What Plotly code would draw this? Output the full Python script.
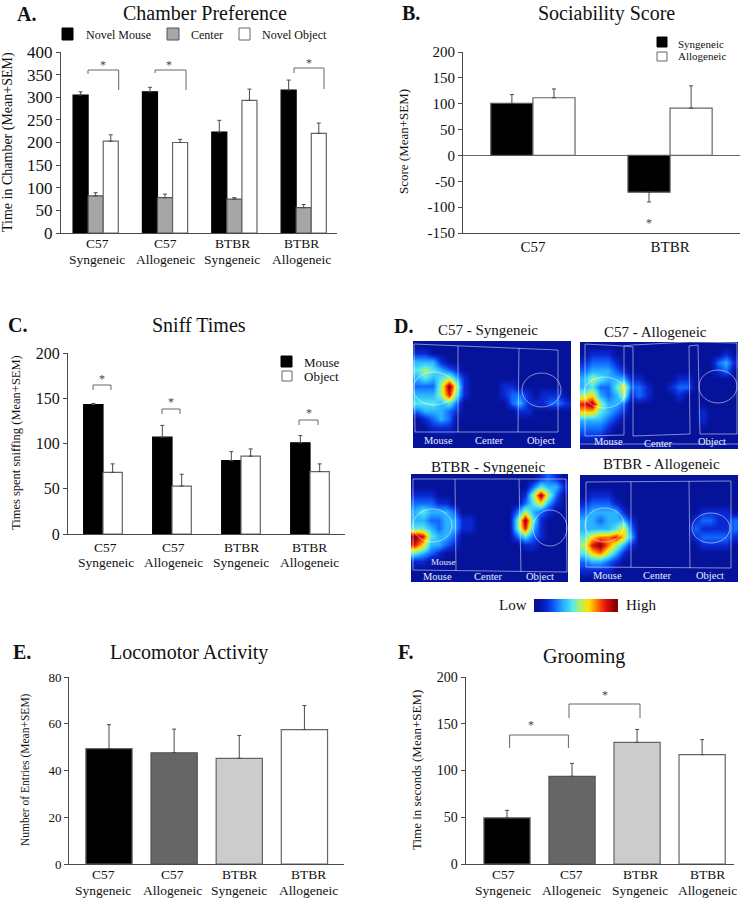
import plotly.graph_objects as go

W, H = 743, 900
SERIF = "Liberation Serif"
AXIS = "#4a4a4a"
EDGE = "#666666"

cats = ["C57 Syngeneic", "C57 Allogeneic", "BTBR Syngeneic", "BTBR Allogeneic"]
cat_top = ["C57", "C57", "BTBR", "BTBR"]
cat_bottom = ["Syngeneic", "Allogeneic", "Syngeneic", "Allogeneic"]

# A. chamber preference
a_mouse = [305, 312, 223, 316]
a_mouse_err = [7, 10, 26, 22]
a_center = [82, 78, 75, 56]
a_center_err = [7, 8, 3, 7]
a_object = [203, 200, 293, 220]
a_object_err = [14, 7, 25, 23]

# B. sociability
b_cats = ["C57", "BTBR"]
b_syn = [100.6, -71]
b_syn_up = [17, 0]
b_syn_down = [0, 19]
b_allo = [111.5, 91.5]
b_allo_err = [17, 43]
b_ticks = [-150, -100, -50, 0, 50, 100, 150, 200]
b_tick_text = ["-150", "-100", "-50", "0", "50", "100", "150", "200"]

# C. sniff times
c_mouse = [143, 107, 81, 100.7]
c_mouse_err = [1.3, 13, 10, 8]
c_object = [68, 53, 86, 69]
c_object_err = [9.5, 13, 8, 8.5]

# E. locomotor
e_vals = [49.4, 47.6, 45.2, 57.5]
e_err = [10.2, 10.1, 9.8, 10.3]

# F. grooming
f_vals = [49.4, 93.8, 130, 117]
f_err = [8, 13.8, 13.9, 16]

grey_fills = ["#000000", "#666666", "#cccccc", "#ffffff"]

d_syn_c57 = [
    [0, 0, 0, 0, 0, 0, 0, 0, 0, 0, 0, 0, 0, 0, 0, 0, 0, 0, 0, 0],
    [1, 1, 0, 0, 0, 0, 0, 0, 0, 0, 0, 0, 0, 0, 0, 0, 0, 0, 0, 0],
    [3, 3, 3, 1, 0, 0, 0, 0, 0, 0, 0, 0, 0, 0, 0, 0, 0, 0, 0, 0],
    [4, 5, 4, 3, 2, 1, 0, 0, 0, 0, 0, 0, 0, 0, 0, 0, 0, 0, 0, 0],
    [3, 4, 3, 4, 5, 3, 1, 0, 0, 0, 0, 0, 0, 0, 0, 0, 0, 0, 0, 0],
    [2, 2, 2, 5, 9, 5, 1, 0, 0, 0, 0, 1, 1, 0, 0, 0, 0, 0, 0, 0],
    [3, 3, 3, 5, 8, 4, 1, 0, 0, 0, 0, 1, 2, 2, 1, 0, 1, 1, 1, 0],
    [4, 4, 4, 3, 4, 2, 0, 0, 0, 0, 0, 0, 2, 3, 1, 1, 1, 2, 2, 1],
    [2, 3, 3, 3, 2, 1, 0, 0, 0, 0, 0, 0, 0, 1, 1, 0, 0, 0, 0, 0],
    [0, 1, 2, 3, 2, 0, 0, 0, 0, 0, 0, 0, 0, 0, 0, 0, 0, 0, 0, 0],
    [0, 0, 1, 1, 1, 0, 0, 0, 0, 0, 0, 0, 0, 0, 0, 0, 0, 0, 0, 0],
    [0, 0, 0, 0, 0, 0, 0, 0, 0, 0, 0, 0, 0, 0, 0, 0, 0, 0, 0, 0],
    [0, 0, 0, 0, 0, 0, 0, 0, 0, 0, 0, 0, 0, 0, 0, 0, 0, 0, 0, 0],
]
d_allo_c57 = [
    [0, 0, 0, 0, 0, 0, 0, 0, 0, 0, 0, 0, 0, 0, 0, 0, 0, 0, 0, 0],
    [0, 1, 1, 1, 0, 0, 0, 0, 0, 0, 0, 0, 0, 0, 0, 0, 0, 0, 1, 0],
    [1, 2, 2, 2, 1, 0, 0, 0, 0, 0, 0, 0, 0, 0, 0, 0, 0, 2, 3, 1],
    [2, 3, 3, 3, 2, 1, 0, 0, 0, 0, 0, 0, 0, 0, 0, 0, 0, 1, 2, 0],
    [3, 5, 4, 3, 3, 3, 1, 1, 0, 0, 0, 0, 1, 1, 0, 0, 0, 0, 0, 0],
    [3, 4, 2, 2, 4, 6, 2, 2, 1, 0, 0, 1, 2, 2, 0, 0, 0, 0, 0, 0],
    [5, 6, 3, 2, 3, 5, 1, 2, 1, 0, 0, 0, 1, 0, 0, 0, 0, 0, 0, 0],
    [8, 9, 5, 3, 3, 2, 0, 0, 0, 0, 0, 0, 0, 0, 0, 0, 0, 0, 0, 0],
    [6, 6, 4, 3, 2, 1, 0, 0, 0, 0, 0, 0, 0, 0, 0, 1, 0, 0, 0, 0],
    [3, 3, 3, 2, 1, 0, 0, 0, 0, 0, 0, 0, 0, 0, 0, 1, 0, 0, 0, 0],
    [2, 2, 2, 1, 0, 0, 0, 0, 0, 0, 0, 0, 0, 0, 0, 0, 0, 0, 0, 0],
    [1, 1, 1, 0, 0, 0, 0, 0, 0, 0, 0, 0, 0, 0, 0, 0, 0, 0, 0, 0],
    [0, 0, 0, 0, 0, 0, 0, 0, 0, 0, 0, 0, 0, 0, 0, 0, 0, 0, 0, 0],
]
d_syn_btbr = [
    [0, 0, 0, 0, 0, 0, 0, 0, 0, 0, 0, 0, 0, 0, 0, 0, 1, 2, 1, 0],
    [0, 0, 0, 0, 0, 0, 0, 0, 0, 0, 0, 0, 0, 0, 0, 2, 4, 3, 3, 1],
    [1, 1, 1, 0, 0, 0, 0, 0, 0, 0, 0, 0, 0, 0, 1, 5, 9, 5, 2, 0],
    [2, 2, 2, 1, 1, 0, 0, 0, 0, 0, 0, 0, 0, 0, 2, 4, 6, 3, 1, 0],
    [3, 4, 3, 3, 3, 2, 0, 0, 0, 0, 0, 0, 0, 2, 5, 3, 2, 1, 0, 0],
    [3, 3, 2, 2, 3, 3, 1, 1, 0, 0, 0, 0, 0, 4, 9, 4, 1, 0, 0, 0],
    [4, 4, 3, 2, 3, 3, 1, 1, 0, 0, 0, 0, 0, 4, 8, 3, 1, 0, 0, 0],
    [9, 8, 4, 3, 3, 2, 0, 0, 0, 0, 0, 0, 0, 2, 4, 2, 1, 0, 0, 0],
    [8, 6, 3, 3, 2, 1, 0, 0, 0, 0, 0, 0, 0, 0, 1, 1, 0, 0, 0, 0],
    [4, 3, 2, 1, 0, 0, 0, 0, 0, 0, 0, 0, 0, 0, 0, 0, 0, 0, 0, 0],
    [1, 1, 0, 0, 0, 0, 0, 0, 0, 0, 0, 0, 0, 0, 0, 0, 0, 0, 0, 0],
    [0, 0, 0, 0, 0, 0, 0, 0, 0, 0, 0, 0, 0, 0, 0, 0, 0, 0, 0, 0],
    [0, 0, 0, 0, 0, 0, 0, 0, 0, 0, 0, 0, 0, 0, 0, 0, 0, 0, 0, 0],
]
d_allo_btbr = [
    [0, 0, 0, 0, 0, 0, 0, 0, 0, 0, 0, 0, 0, 0, 0, 0, 0, 0, 0, 0],
    [0, 0, 0, 0, 0, 0, 0, 0, 0, 0, 0, 0, 0, 0, 0, 0, 0, 0, 0, 0],
    [0, 1, 1, 1, 0, 0, 0, 0, 0, 0, 0, 0, 0, 0, 0, 0, 0, 0, 0, 0],
    [1, 2, 2, 2, 1, 0, 0, 0, 0, 0, 0, 0, 0, 0, 0, 0, 0, 0, 0, 0],
    [2, 3, 3, 3, 3, 1, 0, 0, 0, 0, 0, 0, 0, 0, 0, 1, 1, 1, 1, 0],
    [3, 3, 2, 3, 3, 3, 1, 0, 0, 0, 0, 0, 0, 0, 1, 2, 2, 1, 1, 2],
    [3, 3, 3, 3, 4, 6, 2, 0, 0, 0, 0, 0, 0, 0, 2, 1, 1, 1, 1, 2],
    [4, 6, 7, 7, 8, 6, 3, 0, 0, 0, 0, 0, 0, 0, 1, 2, 2, 2, 2, 1],
    [5, 8, 9, 7, 5, 3, 1, 0, 0, 0, 0, 0, 0, 0, 0, 1, 1, 1, 1, 0],
    [4, 6, 7, 5, 3, 1, 0, 0, 0, 0, 0, 0, 0, 0, 0, 0, 0, 0, 0, 0],
    [2, 3, 3, 2, 1, 0, 0, 0, 0, 0, 0, 0, 0, 0, 0, 0, 0, 0, 0, 0],
    [1, 1, 1, 1, 0, 0, 0, 0, 0, 0, 0, 0, 0, 0, 0, 0, 0, 0, 0, 0],
    [0, 0, 0, 0, 0, 0, 0, 0, 0, 0, 0, 0, 0, 0, 0, 0, 0, 0, 0, 0],
]
strip_levels = [0, 1, 2, 3, 4, 5, 6, 7, 8, 9]

heat_scale = [
    [0.0, "#05129a"], [1 / 9, "#0a28d2"], [2 / 9, "#1068ff"], [3 / 9, "#2ab4ff"],
    [4 / 9, "#55e8ee"], [5 / 9, "#b4f064"], [6 / 9, "#ffe000"], [7 / 9, "#ff7000"],
    [8 / 9, "#e01010"], [1.0, "#8c0000"],
]

shapes = []
notes = []


def px(x):
    return x / W


def py(y):
    return 1 - y / H


def text(x, y, s, size, color="#111111", anchor="center", bold=False):
    notes.append(dict(
        x=px(x), y=py(y), xref="paper", yref="paper", text=f"<b>{s}</b>" if bold else s,
        showarrow=False, xanchor=anchor, yanchor="middle",
        font=dict(family=SERIF, size=size, color=color),
    ))


def vtext(x, y, s, size):
    notes.append(dict(
        x=px(x), y=py(y), xref="paper", yref="paper", text=s, textangle=-90,
        showarrow=False, xanchor="center", yanchor="middle",
        font=dict(family=SERIF, size=size, color="#111111"),
    ))


def cat_labels(centers, y_top, y_bottom, size=13.5):
    for x, top, bottom in zip(centers, cat_top, cat_bottom):
        text(x, y_top, top, size)
        text(x, y_bottom, bottom, size)


def line(points, color="#666666", width=1):
    for (x0, y0), (x1, y1) in zip(points, points[1:]):
        shapes.append(dict(type="line", xref="paper", yref="paper",
                           x0=px(x0), y0=py(y0), x1=px(x1), y1=py(y1),
                           line=dict(color=color, width=width)))


def box(x0, y0, x1, y1, fill, edge):
    shapes.append(dict(type="rect", xref="paper", yref="paper",
                       x0=px(x0), y0=py(y0), x1=px(x1), y1=py(y1),
                       fillcolor=fill, line=dict(color=edge, width=1)))


def ellipse(x0, y0, x1, y1):
    shapes.append(dict(type="circle", xref="paper", yref="paper",
                       x0=px(x0), y0=py(y0), x1=px(x1), y1=py(y1),
                       line=dict(color="rgba(255,255,255,0.5)", width=1)))


def bracket(x0, x1, top, left_end, right_end, star_y, star_x=None):
    line([(x0, left_end), (x0, top), (x1, top), (x1, right_end)])
    text(star_x if star_x else (x0 + x1) / 2, star_y + 2, "*", 12, "#444444")


fig = go.Figure()
axes = {}


def add_axes(n, x_dom, y_dom, x_range, y_range, dtick, tick_size):
    axes[f"xaxis{n}"] = dict(
        domain=[px(x_dom[0]), px(x_dom[1])], anchor=f"y{n}", range=x_range,
        type="category", showticklabels=False,
        ticks="", showgrid=False, zeroline=False, showline=True,
        linecolor=AXIS, linewidth=1,
    )
    axes[f"yaxis{n}"] = dict(
        domain=[py(y_dom[1]), py(y_dom[0])], anchor=f"x{n}", range=y_range, dtick=dtick,
        ticks="outside", ticklen=4, tickcolor=AXIS, showgrid=False, zeroline=False,
        showline=True, linecolor=AXIS, linewidth=1,
        tickfont=dict(family=SERIF, size=tick_size, color="#111111"),
    )


def add_bars(n, x, y, err, width, offset, fill, edge, minus=None):
    fig.add_trace(go.Bar(
        x=x, y=y, width=width, offset=offset, xaxis=f"x{n}", yaxis=f"y{n}",
        marker=dict(color=fill, line=dict(color=edge, width=1.2)),
        error_y=dict(type="data", symmetric=False, array=err,
                     arrayminus=minus if minus else [0] * len(err),
                     color=AXIS, thickness=1, width=2),
        showlegend=False,
    ))


# A
add_axes(1, (61, 337), (52, 233), [-0.5, 3.48], [0, 400], 50, 17)
add_bars(1, cats, a_mouse, a_mouse_err, 0.217, -0.326, "#000000", "#000000")
add_bars(1, cats, a_center, a_center_err, 0.217, -0.109, "#a6a6a6", "#555555")
add_bars(1, cats, a_object, a_object_err, 0.217, 0.109, "#ffffff", EDGE)
cat_labels([97, 165, 232, 301.5], 244, 259)

# B
add_axes(2, (463, 740), (52, 233), [-0.51, 1.51], [-150, 200], 50, 15)
axes["yaxis2"].update(zeroline=True, zerolinecolor="#666666", zerolinewidth=1,
                      tickmode="array", tickvals=b_ticks, ticktext=b_tick_text)
axes["xaxis2"].update(showticklabels=True,
                      tickfont=dict(family=SERIF, size=15, color="#111111"))
add_bars(2, b_cats, b_syn, b_syn_up, 0.307, -0.307, "#000000", "#555555", minus=b_syn_down)
add_bars(2, b_cats, b_allo, b_allo_err, 0.307, 0, "#ffffff", EDGE)

# C
add_axes(3, (68, 345), (353, 534), [-0.507, 3.507], [0, 200], 50, 16)
add_bars(3, cats, c_mouse, c_mouse_err, 0.28, -0.28, "#000000", "#000000")
add_bars(3, cats, c_object, c_object_err, 0.28, 0, "#ffffff", EDGE)
cat_labels([105.5, 173, 241, 309], 547, 562)

# E
add_axes(4, (69, 343.5), (677, 864), [-0.614, 3.6], [0, 80], 20, 13)
add_bars(4, cats, e_vals, e_err, 0.71, -0.355, grey_fills, [EDGE, "#555555", EDGE, EDGE])
cat_labels([103, 172, 239, 308.6], 874, 890.5)

# F
add_axes(5, (465.5, 734), (677, 864), [-0.638, 3.49], [0, 200], 50, 14)
add_bars(5, cats, f_vals, f_err, 0.71, -0.355, grey_fills, [EDGE, "#555555", EDGE, EDGE])
cat_labels([503, 571, 640, 707], 874, 890.5)

# D heat maps with hidden axes
heat_panels = [
    (6, d_syn_c57, (413, 571), (341, 448)),
    (7, d_allo_c57, (580, 738), (342, 449)),
    (8, d_syn_btbr, (411, 568), (474, 582)),
    (9, d_allo_btbr, (580, 738), (475, 582)),
]
for n, grid, xd, yd in heat_panels:
    fig.add_trace(go.Heatmap(z=grid, xaxis=f"x{n}", yaxis=f"y{n}", zmin=0, zmax=9,
                             colorscale=heat_scale, zsmooth="best", showscale=False))
    axes[f"xaxis{n}"] = dict(domain=[px(xd[0]), px(xd[1])], anchor=f"y{n}", visible=False,
                             range=[-0.5, 19.5])
    axes[f"yaxis{n}"] = dict(domain=[py(yd[1]), py(yd[0])], anchor=f"x{n}", visible=False,
                             range=[12.5, -0.5])

# colour strip
fig.add_trace(go.Heatmap(z=[strip_levels], xaxis="x10", yaxis="y10", zmin=0, zmax=9,
                         colorscale=heat_scale, zsmooth="best", showscale=False))
axes["xaxis10"] = dict(domain=[px(534), px(618)], anchor="y10", visible=False, range=[-0.5, 9.5])
axes["yaxis10"] = dict(domain=[py(612), py(599)], anchor="x10", visible=False, range=[-0.5, 0.5])

# titles and panel letters
text(205, 13, "Chamber Preference", 20)
text(606, 13, "Sociability Score", 20)
text(199, 325, "Sniff Times", 20)
text(189, 652, "Locomotor Activity", 20)
text(584, 656, "Grooming", 20)
text(15, 14, "A.", 20, anchor="left", bold=True)
text(400, 13, "B.", 20, anchor="left", bold=True)
text(6, 325, "C.", 20, anchor="left", bold=True)
text(392, 326, "D.", 20, anchor="left", bold=True)
text(11, 652, "E.", 20, anchor="left", bold=True)
text(396, 652, "F.", 20, anchor="left", bold=True)

# axis titles
vtext(8, 142, "Time in Chamber (Mean+SEM)", 14)
vtext(403, 142, "Score (Mean+SEM)", 13)
vtext(16, 443, "Times spent sniffing (Mean+SEM)", 12.5)
vtext(25, 770, "Number of Entries (Mean+SEM)", 11.5)
vtext(416, 770, "Time in seconds (Mean+SEM)", 13)

# legends
box(62, 28, 73, 40, "#000000", "#000000")
text(84, 35, "Novel Mouse", 12, anchor="left")
box(167, 28, 179, 40, "#a6a6a6", "#555555")
text(189, 35, "Center", 12, anchor="left")
box(239, 28, 250, 40, "#ffffff", EDGE)
text(260, 35, "Novel Object", 12, anchor="left")

box(657, 37, 667, 47, "#000000", "#000000")
text(676, 44, "Syngeneic", 11, anchor="left")
box(657, 52, 667, 61, "#ffffff", EDGE)
text(676, 56, "Allogeneic", 11, anchor="left")

box(281, 356, 292, 367, "#000000", "#000000")
text(302, 362, "Mouse", 13, anchor="left")
box(282, 371, 292, 381, "#ffffff", EDGE)
text(302, 376, "Object", 13, anchor="left")

# significance marks
bracket(88, 118.7, 70, 74, 90, 63)
bracket(155, 186, 70, 73, 90, 63, 169)
bracket(294, 324, 68, 73, 89, 61, 309)
text(649, 223, "*", 12, "#444444")
bracket(93, 111, 385, 390, 390, 377)
bracket(162, 180, 409, 414, 414, 400)
bracket(299, 318, 420, 425, 425, 411)
bracket(509.6, 568.4, 735, 748, 748, 723, 531)
bracket(569, 640, 704, 718, 718, 693, 605)

# D titles
text(488, 330, "C57 - Syngeneic", 15)
text(655, 332, "C57 - Allogeneic", 15)
text(488, 467, "BTBR - Syngeneic", 15)
text(661, 464, "BTBR - Allogeneic", 15)
text(513, 605, "Low", 15)
text(641, 605, "High", 15)

# chamber labels in the maps
for x, y, s in [(438, 440, "Mouse"), (489, 440, "Center"), (541, 440, "Object"),
                (608, 442, "Mouse"), (658, 443, "Center"), (712, 442, "Object"),
                (437, 576, "Mouse"), (488, 576, "Center"), (540, 576, "Object"),
                (607, 575, "Mouse"), (657, 575, "Center"), (710, 575, "Object")]:
    text(x, y, s, 10.5, "#e8ecff")
text(443, 562, "Mouse", 9, "#e8ecff")

# chamber outlines
WHITE = "rgba(255,255,255,0.5)"
line([(414, 344), (558, 350), (558, 432), (415, 432), (414, 344)], WHITE)
line([(458, 346), (458, 432)], WHITE)
line([(519, 348), (518, 432)], WHITE)
ellipse(413, 372, 455, 405)
ellipse(522, 373, 561, 407)

line([(585, 344), (624, 346), (633, 345), (689, 342), (698, 342), (737, 343), (737, 434), (700, 434),
      (698, 345), (689, 346), (690, 434), (633, 436), (633, 347), (624, 346), (624, 435), (585, 436),
      (585, 344)], WHITE)
line([(580, 444), (738, 444)], WHITE)
ellipse(584, 377, 625, 408)
ellipse(699, 370, 737, 403)

line([(413, 479), (566, 479), (567, 572), (413, 570), (413, 479)], WHITE)
line([(455, 479), (456, 571)], WHITE)
line([(519, 479), (521, 572)], WHITE)
ellipse(413, 509, 452, 542)
ellipse(533, 510, 567, 546)

line([(586, 482), (731, 481), (731, 568), (586, 567), (586, 482)], WHITE)
line([(631, 482), (631, 567)], WHITE)
line([(689, 481), (690, 568)], WHITE)
ellipse(585, 508, 624, 542)
ellipse(692, 513, 730, 543)

fig.update_layout(
    width=W, height=H,
    margin=dict(l=0, r=0, t=0, b=0, autoexpand=False),
    paper_bgcolor="#ffffff", plot_bgcolor="#ffffff",
    barmode="overlay", showlegend=False,
    shapes=shapes, annotations=notes,
    font=dict(family=SERIF),
    **axes,
)

fig.write_html("out.html", config=dict(displayModeBar=False),
               post_script="document.body.style.margin='0';")
